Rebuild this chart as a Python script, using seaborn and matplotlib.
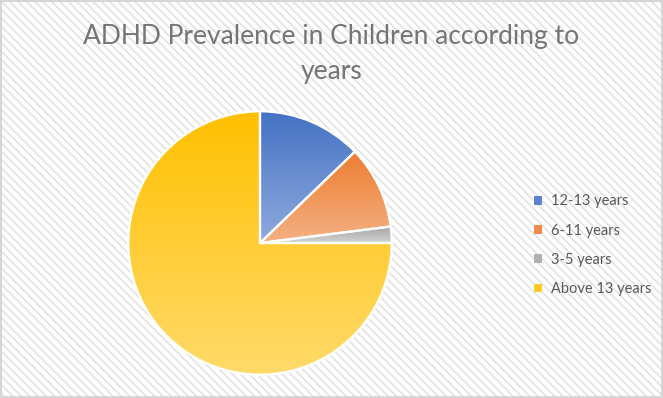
import numpy as np
import matplotlib
matplotlib.use("Agg")
import matplotlib.pyplot as plt
from matplotlib.patches import Rectangle, Patch
from matplotlib.colors import LinearSegmentedColormap
import seaborn as sns

labels = ['12-13 years', '6-11 years', '3-5 years', 'Above 13 years']
shares = [12.8, 10.2, 2.0, 75.0]

# gradient colours per slice (dark at top, light at bottom)
top_colors = ['#4472C4', '#ED7D31', '#A5A5A5', '#FFC000']
bottom_colors = ['#8FAADC', '#F4B183', '#D3D3D3', '#FFDA6A']
legend_colors = ['#5B84CC', '#F08C4E', '#B0B0B0', '#FFC829']

sns.set_theme(style='white')
plt.rcParams['font.family'] = ['Lato', 'DejaVu Sans']
plt.rcParams['hatch.linewidth'] = 1.2

fig = plt.figure(figsize=(6.63, 3.98), dpi=100)
fig.patch.set_facecolor('white')

# striped background + thin frame
fig.add_artist(Rectangle((0, 0), 1, 1, transform=fig.transFigure, facecolor='white',
                         edgecolor='#e2e2e2', hatch='\\\\\\\\', linewidth=0, zorder=-2))
fig.add_artist(Rectangle((0.001, 0.002), 0.998, 0.996, transform=fig.transFigure, facecolor='none',
                         edgecolor='#d0d0d0', linewidth=1.2, zorder=5))

W, H = 663, 398
cx, cy, R = 260, 243, 133
ax = fig.add_axes([(cx - R) / W, (H - cy - R) / H, 2 * R / W, 2 * R / H])
ax.patch.set_visible(False)

wedges, _ = ax.pie(shares, startangle=90, counterclock=False, radius=1,
                   wedgeprops=dict(edgecolor='white', linewidth=1.6))

grad = np.linspace(0, 1, 256)[:, None]
for w, c_top, c_bot in zip(wedges, top_colors, bottom_colors):
    ang = np.radians(np.linspace(w.theta1, w.theta2, 200))
    xs = np.concatenate([[w.center[0]], w.center[0] + w.r * np.cos(ang)])
    ys = np.concatenate([[w.center[1]], w.center[1] + w.r * np.sin(ang)])
    cmap = LinearSegmentedColormap.from_list('g', [c_bot, c_top])
    im = ax.imshow(grad, cmap=cmap, origin='lower', aspect='auto',
                   extent=[xs.min(), xs.max(), ys.min(), ys.max()], zorder=0.5)
    im.set_clip_path(w)
    w.set_facecolor('none')
    w.set_zorder(1)

ax.set_xlim(-1.01, 1.01)
ax.set_ylim(-1.01, 1.01)
ax.axis('off')

fig.text(0.5, 1 - 24 / H, 'ADHD Prevalence in Children according to\nyears', ha='center', va='top',
         fontsize=19, color='#757575', linespacing=1.5)

handles = [Patch(facecolor=c, edgecolor='none') for c in legend_colors]
fig.legend(handles, labels, loc='upper left', bbox_to_anchor=(527 / W, 1 - 187 / H), frameon=False,
           fontsize=10.5, labelcolor='#595959', handlelength=0.55, handleheight=0.55,
           handletextpad=0.6, labelspacing=1.05, borderpad=0)

fig.savefig('out.png', dpi=100)
